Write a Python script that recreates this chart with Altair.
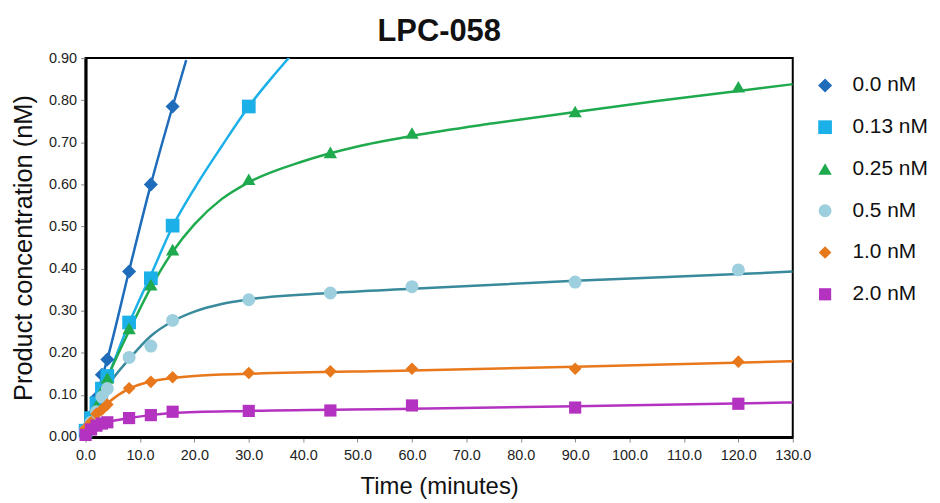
import altair as alt
import pandas as pd

# ---- data ----
SERIES = ["0.0 nM", "0.13 nM", "0.25 nM", "0.5 nM", "1.0 nM", "2.0 nM"]
POINT_COLORS = ["#1f6cba", "#1cb0e8", "#1faa4e", "#9dcfdf", "#e8781c", "#b333c0"]
LINE_COLORS = ["#1f6cba", "#1cb0e8", "#1faa4e", "#3a8a9d", "#e8781c", "#b333c0"]
SHAPES = ["diamond", "square", "triangle-up", "circle", "diamond", "square"]
MARK_SIZES = [200, 150, 170, 150, 200, 150]

T_ALL = [0, 1, 2, 3, 4, 8, 12, 16, 30, 45, 60, 90, 120]
Y_00 = [0.020, 0.050, 0.093, 0.148, 0.184, 0.393, 0.600, 0.785]
Y_013 = [0.015, 0.045, 0.080, 0.115, 0.145, 0.272, 0.377, 0.502, 0.785]
Y_025 = [0.015, 0.040, 0.075, 0.110, 0.140, 0.258, 0.362, 0.445, 0.612, 0.676, 0.722, 0.773, 0.832]
Y_05 = [0.015, 0.035, 0.060, 0.095, 0.115, 0.189, 0.216, 0.277, 0.326, 0.342, 0.357, 0.368, 0.397]
Y_10 = [0.020, 0.035, 0.055, 0.065, 0.077, 0.116, 0.131, 0.142, 0.152, 0.156, 0.162, 0.162, 0.179]
Y_20 = [0.005, 0.018, 0.027, 0.032, 0.035, 0.045, 0.052, 0.060, 0.062, 0.063, 0.075, 0.070, 0.079]

# fitted curves
FIT_T_00 = [0, 1, 2, 3, 4, 8, 12, 16, 18.5]
FIT_Y_00 = [0.030, 0.055, 0.095, 0.140, 0.185, 0.395, 0.600, 0.785, 0.895]
FIT_T_013 = [0, 4, 8, 12, 16, 20, 25, 30, 35, 38]
FIT_Y_013 = [0.020, 0.140, 0.270, 0.385, 0.500, 0.590, 0.690, 0.785, 0.865, 0.910]
FIT_T_025 = [0, 2, 4, 8, 12, 16, 20, 25, 30, 40, 50, 60, 75, 90, 105, 120, 130]
FIT_Y_025 = [0.015, 0.075, 0.140, 0.252, 0.355, 0.440, 0.505, 0.565, 0.605, 0.655, 0.690, 0.715, 0.745, 0.772, 0.798, 0.822, 0.838]
FIT_T_05 = [0, 2, 4, 8, 12, 16, 20, 25, 30, 45, 60, 90, 120, 130]
FIT_Y_05 = [0.020, 0.075, 0.120, 0.185, 0.240, 0.275, 0.298, 0.316, 0.327, 0.342, 0.352, 0.371, 0.387, 0.393]
FIT_T_10 = [0, 2, 4, 8, 12, 16, 20, 30, 60, 90, 130]
FIT_Y_10 = [0.020, 0.055, 0.080, 0.115, 0.132, 0.140, 0.145, 0.150, 0.158, 0.167, 0.180]
FIT_T_20 = [0, 1, 2, 4, 8, 12, 16, 30, 60, 90, 130]
FIT_Y_20 = [0.005, 0.018, 0.026, 0.035, 0.045, 0.052, 0.057, 0.062, 0.067, 0.073, 0.082]

point_vals = [Y_00, Y_013, Y_025, Y_05, Y_10, Y_20]
fits = [(FIT_T_00, FIT_Y_00), (FIT_T_013, FIT_Y_013), (FIT_T_025, FIT_Y_025),
        (FIT_T_05, FIT_Y_05), (FIT_T_10, FIT_Y_10), (FIT_T_20, FIT_Y_20)]

prow = []
for s, ys in zip(SERIES, point_vals):
    for t, y in zip(T_ALL, ys):
        prow.append({"series": s, "t": t, "y": y})
points_df = pd.DataFrame(prow)

frow = []
for s, (ts, ys) in zip(SERIES, fits):
    for t, y in zip(ts, ys):
        frow.append({"series": s, "t": t, "y": y})
fit_df = pd.DataFrame(frow)

FONT = "Liberation Sans"

x_enc = alt.X("t:Q", scale=alt.Scale(domain=[0, 130], nice=False, zero=False),
              axis=alt.Axis(values=list(range(0, 131, 10)), format=".1f",
                            title="Time (minutes)", labelFlush=False,
                            labelPadding=7, titlePadding=12, titleFontSize=24))
y_enc = alt.Y("y:Q", scale=alt.Scale(domain=[0, 0.9], nice=False),
              axis=alt.Axis(values=[i / 10 for i in range(10)], format=".2f",
                            title="Product concentration (nM)", labelFlush=False,
                            labelPadding=4, titlePadding=12, titleFontSize=25.5))

line_layers = []
for s, c in zip(SERIES, LINE_COLORS):
    line_layers.append(
        alt.Chart(fit_df).transform_filter(alt.datum.series == s)
        .mark_line(interpolate="monotone", strokeWidth=2.5, clip=True, color=c)
        .encode(x=x_enc, y=y_enc)
    )

leg = alt.Legend(title=None, orient="right", offset=5,
                 symbolSize=100, labelFontSize=21, labelFont=FONT,
                 labelColor="#111", rowPadding=20, labelOffset=17,
                 padding=17)

pts = alt.Chart(points_df).mark_point(filled=True, opacity=1).encode(
    x=x_enc, y=y_enc,
    color=alt.Color("series:N", scale=alt.Scale(domain=SERIES, range=POINT_COLORS), legend=leg),
    shape=alt.Shape("series:N", scale=alt.Scale(domain=SERIES, range=SHAPES), legend=leg),
    size=alt.Size("series:N", scale=alt.Scale(domain=SERIES, range=MARK_SIZES), legend=None),
)

chart = alt.layer(*line_layers, pts).properties(
    width=711, height=381,
    title=alt.TitleParams("LPC-058", fontSize=31, font=FONT, fontWeight="bold",
                          color="#111", anchor="middle", offset=2),
    padding={"left": 78, "top": 49, "right": 140, "bottom": 66},
    autosize=alt.AutoSizeParams(type="none"),
).configure_view(
    stroke="black", strokeWidth=2
).configure_axis(
    labelFont=FONT, titleFont=FONT, labelFontSize=14.5, labelColor="#222",
    titleFontWeight="normal", titleColor="#111",
    grid=False, domainColor="black", domainWidth=3, tickColor="#888",
    tickSize=5, tickWidth=1,
)

chart.save("out.html", embed_options={"renderer": "svg", "actions": False})
